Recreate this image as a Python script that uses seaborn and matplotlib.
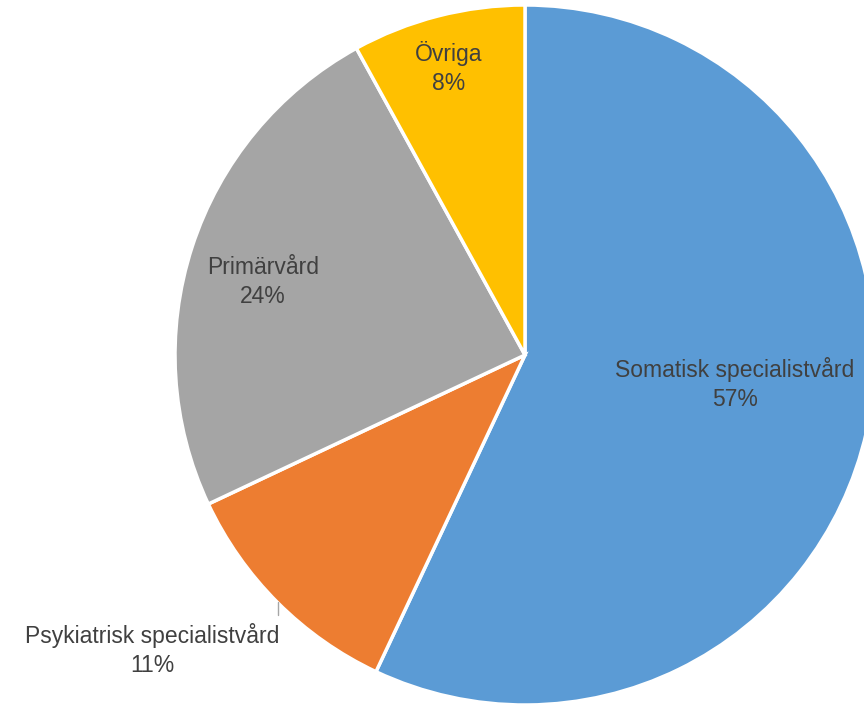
import matplotlib
matplotlib.use("Agg")
import matplotlib.pyplot as plt
import seaborn as sns
import numpy as np

categories = ["Somatisk specialistvård", "Psykiatrisk specialistvård", "Primärvård", "Övriga"]
values = [57, 11, 24, 8]
colors = ["#5B9BD5", "#ED7D31", "#A5A5A5", "#FFC000"]
pct_labels = ["57%", "11%", "24%", "8%"]

sns.set_style("white")
plt.rcParams['font.family'] = ['Liberation Sans', 'DejaVu Sans']

fig = plt.figure(figsize=(8.64, 7.05), dpi=100)
ax = fig.add_axes([0, 0, 1, 1])
R = 350.0

wedges, _ = ax.pie(values, colors=colors, startangle=90, counterclock=False,
                   radius=1.0, wedgeprops=dict(edgecolor='white', linewidth=2.5))
ax.set_xlim(-525 / R, (864 - 525) / R)
ax.set_ylim(-350 / R, 355 / R)
ax.set_aspect('equal')
ax.axis('off')

# label positions (layout, in axes data units)
label_pos = [(0.60, -0.083), (-1.066, -0.843), (-0.749, 0.209), (-0.217, 0.82)]
for cat, pct, (x, y) in zip(categories, pct_labels, label_pos):
    ax.text(x, y, f"{cat}\n{pct}", ha='center', va='center', fontsize=16.5,
            color='#404040', linespacing=1.35)

# leader line for the small outside label
w = wedges[1]
mid = np.deg2rad((w.theta1 + w.theta2) / 2)
x0, y0 = np.cos(mid), np.sin(mid)
ax.plot([x0, x0], [y0, y0 - 0.035], color='#A6A6A6', lw=1)

fig.savefig("out.png", dpi=100)
